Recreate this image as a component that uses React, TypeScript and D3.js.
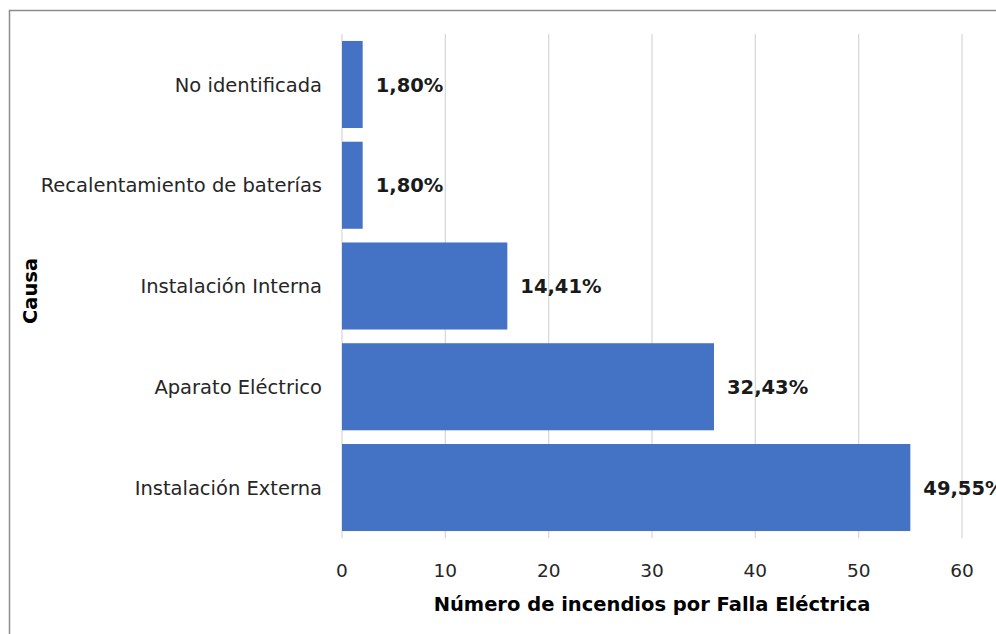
import * as d3 from 'd3';
import { useEffect, useRef } from 'react';

const categories = [
  'No identificada',
  'Recalentamiento de baterías',
  'Instalación Interna',
  'Aparato Eléctrico',
  'Instalación Externa',
];
const counts = [2, 2, 16, 36, 55];
const percentLabels = ['1,80%', '1,80%', '14,41%', '32,43%', '49,55%'];
const xTicks = [0, 10, 20, 30, 40, 50, 60];

const xTitle = 'Número de incendios por Falla Eléctrica';
const yTitle = 'Causa';

export default function App() {
  const svgRef = useRef<SVGSVGElement>(null);

  useEffect(() => {
    if (!svgRef.current) return;
    const svg = d3.select(svgRef.current);
    svg.selectAll('*').remove();

    const width = 996;
    const height = 634;
    const font = "'DejaVu Sans', Verdana, sans-serif";
    const barColor = '#4472c4';
    const plot = { left: 342, right: 962, top: 34, bottom: 538 };

    // outer chart border (runs off the right/bottom edge like the source)
    svg
      .append('rect')
      .attr('x', 9.5)
      .attr('y', 10.5)
      .attr('width', width + 10)
      .attr('height', height + 10)
      .attr('fill', '#fff')
      .attr('stroke', '#8c8c8c')
      .attr('stroke-width', 1.5);

    const x = d3.scaleLinear().domain([0, 60]).range([plot.left, plot.right]);
    const y = d3
      .scaleBand<string>()
      .domain(categories)
      .range([plot.top, plot.bottom])
      .paddingInner(0.136)
      .paddingOuter(0.069);

    // vertical gridlines
    svg
      .append('g')
      .selectAll('line')
      .data(xTicks)
      .join('line')
      .attr('x1', (d) => x(d))
      .attr('x2', (d) => x(d))
      .attr('y1', plot.top)
      .attr('y2', plot.bottom)
      .attr('stroke', '#d9d9d9')
      .attr('stroke-width', 1.3);

    // bars
    svg
      .append('g')
      .selectAll('rect')
      .data(counts)
      .join('rect')
      .attr('x', x(0))
      .attr('y', (d, i) => y(categories[i]) as number)
      .attr('width', (d) => x(d) - x(0))
      .attr('height', y.bandwidth())
      .attr('fill', barColor);

    // data labels
    svg
      .append('g')
      .selectAll('text')
      .data(counts)
      .join('text')
      .attr('x', (d) => x(d) + 13)
      .attr('y', (d, i) => (y(categories[i]) as number) + y.bandwidth() / 2)
      .attr('dy', '0.36em')
      .attr('font-family', font)
      .attr('font-size', 19.5)
      .attr('font-weight', 'bold')
      .attr('fill', '#1a1a1a')
      .text((d, i) => percentLabels[i]);

    // category labels
    svg
      .append('g')
      .selectAll('text')
      .data(categories)
      .join('text')
      .attr('x', plot.left - 20)
      .attr('y', (d) => (y(d) as number) + y.bandwidth() / 2)
      .attr('dy', '0.36em')
      .attr('text-anchor', 'end')
      .attr('font-family', font)
      .attr('font-size', 19.5)
      .attr('fill', '#262626')
      .text((d) => d);

    // x tick labels
    svg
      .append('g')
      .selectAll('text')
      .data(xTicks)
      .join('text')
      .attr('x', (d) => x(d))
      .attr('y', 577)
      .attr('text-anchor', 'middle')
      .attr('font-family', font)
      .attr('font-size', 18.5)
      .attr('fill', '#262626')
      .text((d) => d);

    // axis titles
    svg
      .append('text')
      .attr('x', (plot.left + plot.right) / 2)
      .attr('y', 611)
      .attr('text-anchor', 'middle')
      .attr('font-family', font)
      .attr('font-size', 19.5)
      .attr('font-weight', 'bold')
      .attr('fill', '#000')
      .text(xTitle);

    svg
      .append('text')
      .attr('transform', `translate(37,291) rotate(-90)`)
      .attr('text-anchor', 'middle')
      .attr('font-family', font)
      .attr('font-size', 19.5)
      .attr('font-weight', 'bold')
      .attr('fill', '#000')
      .text(yTitle);
  }, []);

  return (
    <svg
      ref={svgRef}
      width={996}
      height={634}
      style={{ position: 'absolute', left: 0, top: 0, background: '#fff' }}
    />
  );
}
